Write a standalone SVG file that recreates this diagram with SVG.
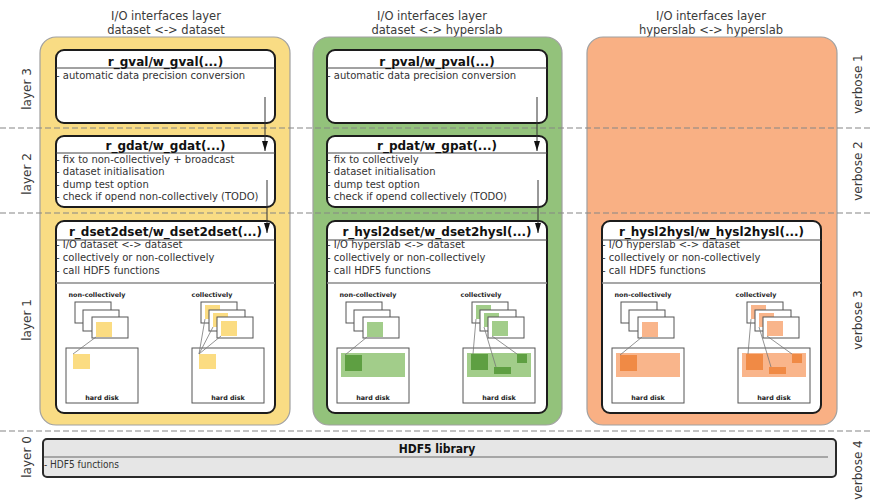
<svg xmlns="http://www.w3.org/2000/svg" width="873" height="502" viewBox="0 0 873 502">
  <defs>
    <style>
      text { font-family: "DejaVu Sans", "Liberation Sans", sans-serif; fill: #2e2e2e; }
      .hdr { font-size: 11.5px; text-anchor: middle; fill: #3a3a3a; }
      .side { font-size: 12px; text-anchor: middle; fill: #3a3a3a; }
      .title { font-size: 12px; font-weight: bold; text-anchor: middle; fill: #111; }
      .body { font-size: 10px; fill: #333; }
      .small { font-size: 6.4px; font-weight: bold; text-anchor: middle; fill: #222; }
      .cond { font-family: "DejaVu Sans Condensed", "DejaVu Sans", sans-serif; }
      .panel { stroke: #a0a0a0; stroke-width: 1.2; }
      .node { fill: #fff; stroke: #1c1c1c; stroke-width: 2; }
      .hline { stroke: #444; stroke-width: 1; }
      .sep { stroke: #8a8a8a; stroke-width: 1.6; }
      .level { stroke: #858585; stroke-width: 1.2; stroke-dasharray: 6 3; fill: none; }
      .page { fill: #fff; stroke: #555; stroke-width: 1; }
      .disk { fill: #fff; stroke: #555; stroke-width: 1; }
      .link { stroke: #777; stroke-width: 0.8; fill: none; }
      .flow { stroke: #333; stroke-width: 1; fill: none; marker-end: url(#arrow); }
      .y-sq { fill: #fbdc82; }
      .g-lt { fill: #a2cd8a; }
      .g-dk { fill: #5e9f42; }
      .o-lt { fill: #f9b58b; }
      .o-dk { fill: #f08a45; }
    </style>
    <marker id="arrow" markerUnits="userSpaceOnUse" viewBox="0 0 10 6" refX="10" refY="3" markerWidth="10" markerHeight="6" orient="auto">
      <path d="M0,0 L10,3 L0,6 Z" fill="#111"/>
    </marker>
  </defs>

  <!-- column headers -->
  <g id="headers">
    <text class="hdr" x="166" y="19.5">I/O interfaces layer</text>
    <text class="hdr" x="166" y="34">dataset &lt;-&gt; dataset</text>
    <text class="hdr" x="432" y="19.5">I/O interfaces layer</text>
    <text class="hdr" x="437" y="34">dataset &lt;-&gt; hyperslab</text>
    <text class="hdr" x="711" y="19.5">I/O interfaces layer</text>
    <text class="hdr" x="711" y="34">hyperslab &lt;-&gt; hyperslab</text>
  </g>

  <!-- layer / verbosity labels -->
  <g id="side-labels">
    <text class="side" transform="translate(31,89) rotate(-90)">layer 3</text>
    <text class="side" transform="translate(31,174) rotate(-90)">layer 2</text>
    <text class="side" transform="translate(31,320) rotate(-90)">layer 1</text>
    <text class="side" transform="translate(31,457) rotate(-90)">layer 0</text>
    <text class="side" transform="translate(862,84) rotate(-90)">verbose 1</text>
    <text class="side" transform="translate(862,171) rotate(-90)">verbose 2</text>
    <text class="side" transform="translate(862,320) rotate(-90)">verbose 3</text>
    <text class="side" transform="translate(862,470) rotate(-90)">verbose 4</text>
  </g>

  <!-- coloured column panels -->
  <g id="panels">
    <rect id="panel-dset" class="panel" x="40" y="37" width="250" height="388" rx="16" fill="#f9dc84"/>
    <rect id="panel-dset-hysl" class="panel" x="313" y="37" width="249" height="388" rx="16" fill="#93c27b"/>
    <rect id="panel-hysl" class="panel" x="587" y="37" width="250" height="388" rx="16" fill="#f9b084"/>
  </g>

  <!-- layer boundaries -->
  <g id="levels">
    <line class="level" x1="0" y1="128" x2="873" y2="128"/>
    <line class="level" x1="0" y1="213" x2="873" y2="213"/>
    <line class="level" x1="0" y1="431" x2="873" y2="431"/>
  </g>

  <!-- layer 3 -->
  <g id="r_gval">
    <rect class="node" x="56" y="50" width="219" height="73" rx="8"/>
    <line class="hline" x1="56" y1="68" x2="275" y2="68"/>
    <text class="title" x="165.5" y="66">r_gval/w_gval(...)</text>
    <text class="body" x="56" y="78.5">- automatic data precision conversion</text>
  </g>
  <g id="r_pval">
    <rect class="node" x="327" y="50" width="220" height="73" rx="8"/>
    <line class="hline" x1="327" y1="68" x2="547" y2="68"/>
    <text class="title" x="437" y="66">r_pval/w_pval(...)</text>
    <text class="body" x="327" y="78.5">- automatic data precision conversion</text>
  </g>

  <!-- layer 2 -->
  <g id="r_gdat">
    <rect class="node" x="56" y="136" width="219" height="71" rx="8"/>
    <line class="hline" x1="56" y1="153" x2="275" y2="153"/>
    <text class="title" x="165.5" y="149.5">r_gdat/w_gdat(...)</text>
    <text class="body" x="56" y="162.5">- fix to non-collectively + broadcast</text>
    <text class="body" x="56" y="175">- dataset initialisation</text>
    <text class="body" x="56" y="187.5">- dump test option</text>
    <text class="body" x="56" y="200">- check if opend non-collectively (TODO)</text>
  </g>
  <g id="r_pdat">
    <rect class="node" x="327" y="136" width="220" height="71" rx="8"/>
    <line class="hline" x1="327" y1="153" x2="547" y2="153"/>
    <text class="title" x="437" y="149.5">r_pdat/w_gpat(...)</text>
    <text class="body" x="327" y="162.5">- fix to collectively</text>
    <text class="body" x="327" y="175">- dataset initialisation</text>
    <text class="body" x="327" y="187.5">- dump test option</text>
    <text class="body" x="327" y="200">- check if opend collectively (TODO)</text>
  </g>

  <!-- layer 1 -->
  <g id="r_dset2dset">
    <rect class="node" x="56" y="221" width="219" height="192" rx="8"/>
    <line class="hline" x1="56" y1="240" x2="275" y2="240"/>
    <line class="sep" x1="56" y1="283" x2="275" y2="283"/>
    <text class="title" x="165.5" y="235.5">r_dset2dset/w_dset2dset(...)</text>
    <text class="body" x="56" y="247.5">- I/O dataset &lt;-&gt; dataset</text>
    <text class="body" x="56" y="261">- collectively or non-collectively</text>
    <text class="body" x="56" y="274">- call HDF5 functions</text>
    <g transform="translate(56,221)">
      <text class="small" x="41" y="76">non-collectively</text>
      <rect class="page" x="19" y="81" width="36" height="21"/>
      <rect class="page" x="27" y="89" width="36" height="21"/>
      <rect class="page" x="36" y="96" width="36" height="21"/>
      <rect class="y-sq" x="40" y="101" width="16" height="15"/>
      <rect class="disk" x="10" y="127" width="72" height="55"/>
      <rect class="y-sq" x="17" y="133" width="17" height="15"/>
      <line class="link" x1="40" y1="116" x2="17" y2="133"/>
      <text class="small" x="46" y="179">hard disk</text>

      <text class="small" x="156" y="76">collectively</text>
      <rect class="page" x="145" y="81" width="36" height="21"/>
      <rect class="y-sq" x="149" y="84" width="15" height="14"/>
      <rect class="page" x="153" y="89" width="36" height="21"/>
      <rect class="y-sq" x="157" y="92" width="15" height="14"/>
      <rect class="page" x="161" y="96" width="36" height="21"/>
      <rect class="y-sq" x="165" y="100" width="16" height="15"/>
      <rect class="disk" x="136" y="127" width="72" height="55"/>
      <rect class="y-sq" x="143" y="133" width="17" height="15"/>
      <line class="link" x1="149" y1="98" x2="143" y2="133"/>
      <line class="link" x1="157" y1="106" x2="143" y2="133"/>
      <line class="link" x1="165" y1="115" x2="143" y2="133"/>
      <text class="small" x="172" y="179">hard disk</text>
    </g>
  </g>

  <g id="r_hysl2dset">
    <rect class="node" x="327" y="221" width="220" height="192" rx="8"/>
    <line class="hline" x1="327" y1="240" x2="547" y2="240"/>
    <line class="sep" x1="327" y1="283" x2="547" y2="283"/>
    <text class="title" x="437" y="235.5">r_hysl2dset/w_dset2hysl(...)</text>
    <text class="body" x="327" y="247.5">- I/O hyperslab &lt;-&gt; dataset</text>
    <text class="body" x="327" y="261">- collectively or non-collectively</text>
    <text class="body" x="327" y="274">- call HDF5 functions</text>
    <g transform="translate(327,221)">
      <text class="small" x="41" y="76">non-collectively</text>
      <rect class="page" x="19" y="81" width="36" height="21"/>
      <rect class="page" x="27" y="89" width="36" height="21"/>
      <rect class="page" x="36" y="96" width="36" height="21"/>
      <rect class="g-lt" x="40" y="101" width="16" height="15"/>
      <rect class="disk" x="10" y="127" width="72" height="55"/>
      <rect class="g-lt" x="14" y="132" width="64" height="24"/>
      <rect class="g-dk" x="18" y="134" width="17" height="16"/>
      <line class="link" x1="40" y1="116" x2="18" y2="134"/>
      <text class="small" x="46" y="179">hard disk</text>

      <text class="small" x="154" y="76">collectively</text>
      <rect class="page" x="145" y="81" width="36" height="21"/>
      <rect class="g-lt" x="149" y="84" width="15" height="14"/>
      <rect class="page" x="153" y="89" width="36" height="21"/>
      <rect class="g-lt" x="157" y="92" width="15" height="14"/>
      <rect class="page" x="161" y="96" width="36" height="21"/>
      <rect class="g-lt" x="165" y="100" width="16" height="15"/>
      <rect class="disk" x="136" y="127" width="72" height="55"/>
      <rect class="g-lt" x="140" y="132" width="64" height="24"/>
      <rect class="g-dk" x="144" y="133" width="17" height="16"/>
      <rect class="g-dk" x="167" y="146" width="17" height="7"/>
      <rect class="g-dk" x="190" y="133" width="10" height="9"/>
      <line class="link" x1="149" y1="98" x2="146" y2="133"/>
      <line class="link" x1="157" y1="106" x2="169" y2="146"/>
      <line class="link" x1="165" y1="115" x2="190" y2="133"/>
      <text class="small" x="172" y="179">hard disk</text>
    </g>
  </g>

  <g id="r_hysl2hysl">
    <rect class="node" x="602" y="221" width="219" height="192" rx="8"/>
    <line class="hline" x1="602" y1="240" x2="821" y2="240"/>
    <line class="sep" x1="602" y1="283" x2="821" y2="283"/>
    <text class="title" x="711.5" y="235.5">r_hysl2hysl/w_hysl2hysl(...)</text>
    <text class="body" x="602" y="247.5">- I/O hyperslab &lt;-&gt; dataset</text>
    <text class="body" x="602" y="261">- collectively or non-collectively</text>
    <text class="body" x="602" y="274">- call HDF5 functions</text>
    <g transform="translate(602,221)">
      <text class="small" x="41" y="76">non-collectively</text>
      <rect class="page" x="19" y="81" width="36" height="21"/>
      <rect class="page" x="27" y="89" width="36" height="21"/>
      <rect class="page" x="36" y="96" width="36" height="21"/>
      <rect class="o-lt" x="40" y="101" width="16" height="15"/>
      <rect class="disk" x="10" y="127" width="72" height="55"/>
      <rect class="o-lt" x="14" y="132" width="64" height="24"/>
      <rect class="o-dk" x="18" y="134" width="17" height="16"/>
      <line class="link" x1="40" y1="116" x2="18" y2="134"/>
      <text class="small" x="46" y="179">hard disk</text>

      <text class="small" x="154" y="76">collectively</text>
      <rect class="page" x="145" y="81" width="36" height="21"/>
      <rect class="o-lt" x="149" y="84" width="15" height="14"/>
      <rect class="page" x="153" y="89" width="36" height="21"/>
      <rect class="o-lt" x="157" y="92" width="15" height="14"/>
      <rect class="page" x="161" y="96" width="36" height="21"/>
      <rect class="o-lt" x="165" y="100" width="16" height="15"/>
      <rect class="disk" x="136" y="127" width="72" height="55"/>
      <rect class="o-lt" x="140" y="132" width="64" height="24"/>
      <rect class="o-dk" x="144" y="133" width="17" height="16"/>
      <rect class="o-dk" x="167" y="146" width="17" height="7"/>
      <rect class="o-dk" x="190" y="133" width="10" height="9"/>
      <line class="link" x1="149" y1="98" x2="146" y2="133"/>
      <line class="link" x1="157" y1="106" x2="169" y2="146"/>
      <line class="link" x1="165" y1="115" x2="190" y2="133"/>
      <text class="small" x="172" y="179">hard disk</text>
    </g>
  </g>

  <!-- layer 0 -->
  <g id="hdf5">
    <rect x="43" y="439" width="793" height="38" rx="4" fill="#e6e6e6" stroke="#2a2a2a" stroke-width="2"/>
    <line x1="44" y1="457" x2="828" y2="457" stroke="#666" stroke-width="1.2"/>
    <text class="title cond" x="437" y="453">HDF5 library</text>
    <text class="body cond" x="44" y="468">- HDF5 functions</text>
  </g>

  <!-- call flow between layers -->
  <g id="connectors">
    <path class="flow" d="M265,97 V151"/>
    <path class="flow" d="M267,180 V233"/>
    <path class="flow" d="M537,97 V151"/>
    <path class="flow" d="M538,180 V233"/>
  </g>
</svg>
